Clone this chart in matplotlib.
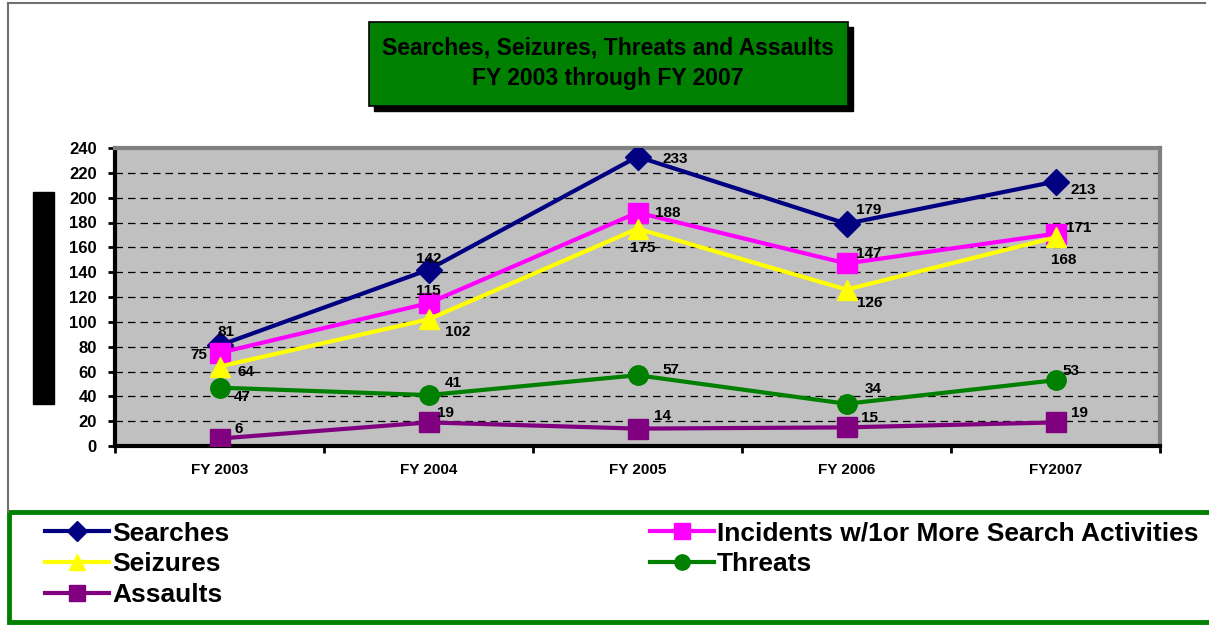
import matplotlib
matplotlib.use("Agg")
import matplotlib.pyplot as plt
from matplotlib.patches import Rectangle
from matplotlib.lines import Line2D

# data
years = ["FY 2003", "FY 2004", "FY 2005", "FY 2006", "FY2007"]
searches = [81, 142, 233, 179, 213]
incidents = [75, 115, 188, 147, 171]
seizures = [64, 102, 175, 126, 168]
threats = [47, 41, 57, 34, 53]
assaults = [6, 19, 14, 15, 19]

plt.rcParams['font.family'] = ['Liberation Sans', 'DejaVu Sans']
plt.rcParams['font.weight'] = 'bold'

fig = plt.figure(figsize=(12.09, 6.26), dpi=100)
W, H = 1209, 626

def fx(px):
    return px / W

def fy(py):
    return 1 - py / H

ax = fig.add_axes([fx(115), fy(446), fx(1160) - fx(115), fy(148) - fy(446)])
ax.set_facecolor('#C0C0C0')

x = list(range(len(years)))

# (values, label, colour, marker, size, label offsets in points)
series = [
    (searches, "Searches", "#000080", "D", 13,
     [(5, 10), (0, 8), (27, -1.5), (16, 10), (20, -6)]),
    (incidents, "Incidents w/1or More Search Activities", "#FF00FF", "s", 14,
     [(-15, -1.5), (0, 9), (22, 0), (16, 7), (16.5, 4)]),
    (seizures, "Seizures", "#FFFF00", "^", 15,
     [(19, -4), (21, -9), (4, -14), (17, -10), (6, -16)]),
    (threats, "Threats", "#008000", "o", 14,
     [(16, -6.5), (18, 9), (24, 4), (19, 11), (11, 6.5)]),
    (assaults, "Assaults", "#800080", "s", 14,
     [(14, 7), (12, 6.5), (18, 9), (16.5, 6.5), (17, 6.5)]),
]

handles = {}
for vals, name, col, mk, ms, offs in series:
    ax.plot(x, vals, color=col, lw=3, marker=mk, markersize=ms,
            markeredgecolor=col, zorder=3)
    handles[name] = Line2D([], [], color=col, lw=3, marker=mk,
                           markersize=ms - 3, markeredgecolor=col)
    for xi, v, (dx, dy) in zip(x, vals, offs):
        ax.annotate(str(v), (xi, v), xytext=(dx, dy), textcoords='offset points',
                    ha='center', va='center', fontsize=11, fontweight='bold',
                    zorder=4)

ax.set_xlim(-0.5, len(years) - 0.5)
ax.set_ylim(0, 240)
ax.set_yticks(range(0, 241, 20))
ax.set_xticks(x)
ax.set_xticklabels(years, fontsize=11, fontweight='bold')
ax.tick_params(axis='y', labelsize=12, width=2, length=5, pad=8)
ax.tick_params(axis='x', length=0, pad=12)
ax.set_xticks([i + 0.5 for i in range(-1, len(years))], minor=True)
ax.tick_params(axis='x', which='minor', length=5, width=2, direction='out')
ax.grid(axis='y', color='black', linestyle=(0, (6, 4)), lw=0.9)
ax.set_axisbelow(True)
ax.spines['left'].set_linewidth(3)
ax.spines['bottom'].set_linewidth(3)
ax.spines['top'].set_color('#808080')
ax.spines['top'].set_linewidth(3)
ax.spines['right'].set_color('#808080')
ax.spines['right'].set_linewidth(3)

# black bar where the axis title would sit
fig.patches.append(Rectangle((fx(33), fy(404)), fx(21), fy(192) - fy(404),
                             transform=fig.transFigure, color='black'))

# outer frame lines
fig.lines.append(Line2D([fx(8), fx(1205)], [fy(3), fy(3)], transform=fig.transFigure,
                        color='#707070', lw=1.5))
fig.lines.append(Line2D([fx(8), fx(8)], [fy(3), fy(512)], transform=fig.transFigure,
                        color='#707070', lw=1.5))

# title box with shadow
fig.patches.append(Rectangle((fx(374), fy(111)), fx(848) - fx(369), fy(22) - fy(106),
                             transform=fig.transFigure, color='black'))
fig.patches.append(Rectangle((fx(369), fy(106)), fx(848) - fx(369), fy(22) - fy(106),
                             transform=fig.transFigure, facecolor='#008000',
                             edgecolor='black', lw=1.2))
fig.text(fx(608), fy(63), "Searches, Seizures, Threats and Assaults\nFY 2003 through FY 2007",
         ha='center', va='center', fontsize=16.5, fontweight='bold', linespacing=1.4)

# legend box
fig.patches.append(Rectangle((fx(9), fy(622)), fx(1215) - fx(9), fy(512) - fy(622),
                             transform=fig.transFigure, facecolor='white',
                             edgecolor='#008000', lw=3.5))
col1 = ["Searches", "Seizures", "Assaults"]
col2 = ["Incidents w/1or More Search Activities", "Threats"]
leg_kw = dict(frameon=False, handlelength=2.45, handletextpad=0.1,
              labelspacing=0.25, borderaxespad=0, prop={'weight': 'bold', 'size': 19})
fig.legend([handles[n] for n in col1], col1, loc='upper left',
           bbox_to_anchor=(fx(34), fy(511)), **leg_kw)
fig.legend([handles[n] for n in col2], col2, loc='upper left',
           bbox_to_anchor=(fx(639), fy(511)), **leg_kw)

fig.savefig("out.png", dpi=100)
